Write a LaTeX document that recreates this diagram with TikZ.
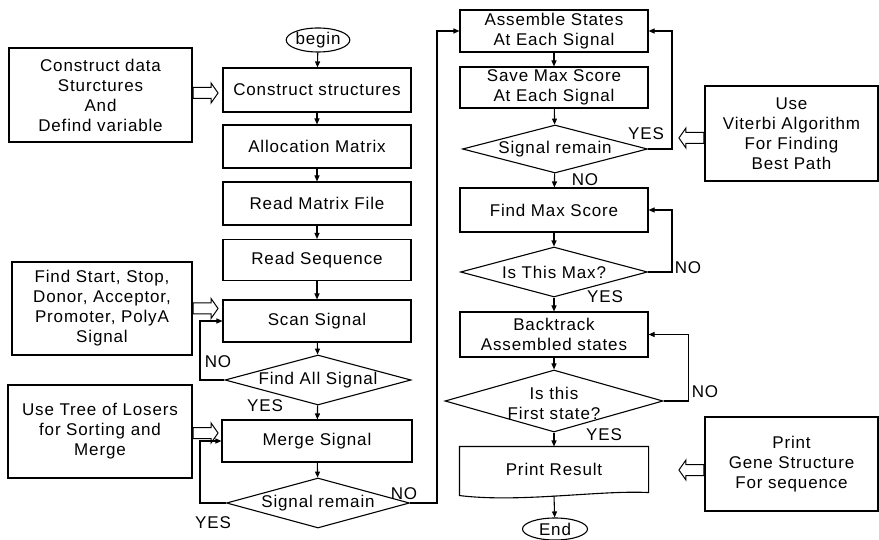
\documentclass[tikz,border=0pt]{standalone}
\usepackage{fontspec}
\setmainfont{Liberation Sans}[LetterSpace=5]
\usetikzlibrary{arrows.meta,positioning,shapes.geometric,shapes.arrows}

\begin{document}
\begin{tikzpicture}[
  x=1pt, y=-1pt,
  font=\fontsize{17}{20}\selectfont,
  line width=1.1pt,
  >={Triangle[length=6pt,width=5pt]},
  process/.style={draw,rectangle,minimum width=188pt,minimum height=#1,
    inner sep=1pt,align=center},
  process/.default=43pt,
  decision/.style 2 args={draw,diamond,inner sep=0pt,
    minimum width=#1,minimum height=#2},
  terminal/.style={draw,ellipse,inner sep=0pt},
  info/.style={draw,rectangle,minimum height=94pt,align=center,inner sep=2pt},
  hollow/.style={draw,single arrow,minimum height=25pt,minimum width=19pt,
    single arrow head extend=4.5pt,single arrow tip angle=110,inner sep=5pt,
    line width=1pt},
  answer/.style={inner sep=0pt}
]
  \useasboundingbox (0,0) rectangle (879,540);

  \coordinate (lpx) at (200,0);
  \coordinate (midx) at (437,0);
  \coordinate (rx) at (672,0);

  % main column
  \node[terminal,minimum width=63pt,minimum height=24pt] (begin) at (318,40) {begin};
  \node[process=44pt] (cs) at (317,90) {Construct structures};
  \node[process] (alloc) at (317,146.5) {Allocation Matrix};
  \node[process] (rmf) at (317,203.5) {Read Matrix File};
  \node[process=41pt] (rseq) at (317,260) {Read Sequence};
  \node[process=42pt] (scan) at (317,321) {Scan Signal};
  \node[decision={186pt}{50pt},label={[name=fa-t]center:Find All Signal}] (fa) at (318,380) {};
  \node[process=42pt,minimum width=190pt] (merge) at (317,441) {Merge Signal};
  \node[decision={183pt}{50pt},label={[name=sr1-t]center:Signal remain}] (sr1) at (318,503) {};

  % second column
  \node[process=42pt] (asm) at (554,31) {Assemble States\\At Each Signal};
  \node[process=41pt] (save) at (554,87.5) {Save Max Score\\At Each Signal};
  \node[decision={185pt}{48pt},label={[name=sr2-t]center:Signal remain}] (sr2) at (555,149) {};
  \node[process=44pt] (fmax) at (554,210) {Find Max Score};
  \node[decision={187pt}{50pt},label={[name=ismax-t]center:Is This Max?}] (ismax) at (554,272) {};
  \node[process=45pt] (back) at (554,334.5) {Backtrack\\Assembled states};
  \node[decision={218pt}{62pt},label={[name=first-t,align=center,yshift=-2pt]center:Is this\\First state?}] (first) at (554,401) {};
  \node[process=45pt,draw=none] (print) at (554,469.5) {Print Result};
  \draw ([yshift=-3pt]print.south west) coordinate (pr-sw) -- (print.north west)
    -- (print.north east) -- (print.south east)
    .. controls (600,490) and (520,503) .. (pr-sw) -- cycle;
  \node[terminal,minimum width=65pt,minimum height=22pt] (end) at (555,529) {End};

  % side notes
  \node[info,minimum width=183pt] (info1) at (100.5,95)
    {Construct data\\Sturctures\\And\\Defind variable};
  \node[info,minimum width=180pt,minimum height=93pt] (info2) at (102,308.5)
    {Find Start, Stop,\\Donor, Acceptor,\\Promoter, PolyA\\Signal};
  \node[info,minimum width=184pt,minimum height=93pt] (info3) at (100,431.5)
    {Use Tree of Losers\\for Sorting and\\Merge};
  \node[info,minimum width=173pt,minimum height=95pt] (info4) at (791.5,133.5)
    {Use\\Viterbi Algorithm\\For Finding\\Best Path};
  \node[info,minimum width=173pt] (info5) at (791.5,464)
    {Print\\Gene Structure\\For sequence};

  \node[hollow,anchor=tail] (ha1) at ([yshift=2pt]info1.east) {};
  \node[hollow,anchor=tail] (ha2) at (info2.east) {};
  \node[hollow,anchor=tail] (ha3) at ([yshift=-1.5pt]info3.east) {};
  \node[hollow,anchor=tail,shape border rotate=180] (ha4) at ([yshift=-4.5pt]info4.west) {};
  \node[hollow,anchor=tail,shape border rotate=180] (ha5) at ([yshift=-6pt]info5.west) {};

  % flow
  \draw[->] (begin) -- (cs);
  \draw[->] (cs) -- (alloc);
  \draw[->] (alloc) -- (rmf);
  \draw[->] (rmf) -- (rseq);
  \draw[->] (rseq) -- (scan);
  \draw[->] (scan) -- (fa);
  \draw[->] (fa) -- (merge);
  \draw[->] (merge) -- (sr1);
  \draw[->] (fa.west) -- (fa.west -| lpx) |- (scan.west);
  \draw[->] (sr1.west) -- (sr1.west -| lpx) |- (merge.west);
  \draw[->] (sr1.east) -- (sr1.east -| midx) |- (asm.west);

  \draw[->] (asm) -- (save);
  \draw[->] (save) -- (sr2);
  \draw[->] (sr2) -- (fmax);
  \draw[->] (fmax) -- (ismax);
  \draw[->] (ismax) -- (back);
  \draw[->] (back) -- (first);
  \draw[->] (first) -- (print);
  \draw[->] (print.south |- pr-sw) -- (end);
  \draw[->] (sr2.east) -- (sr2.east -| rx) |- (asm.east);
  \draw[->] (ismax.east) -- (ismax.east -| rx) |- (fmax.east);
  \draw[->] (first.east) -- ++(25,0) |- (back.east);

  % answers
  \node[answer] (no1) at (218,362) {NO};
  \node[answer] (yes1) at (265,406) {YES};
  \node[answer] (no2) at (404,494) {NO};
  \node[answer] (yes2) at (213,523) {YES};
  \node[answer] (yes3) at (646,134) {YES};
  \node[answer] (no3) at (585,180) {NO};
  \node[answer] (no4) at (688,268) {NO};
  \node[answer] (yes4) at (605,297) {YES};
  \node[answer] (no5) at (705,392) {NO};
  \node[answer] (yes5) at (604,435) {YES};
\end{tikzpicture}
\end{document}
